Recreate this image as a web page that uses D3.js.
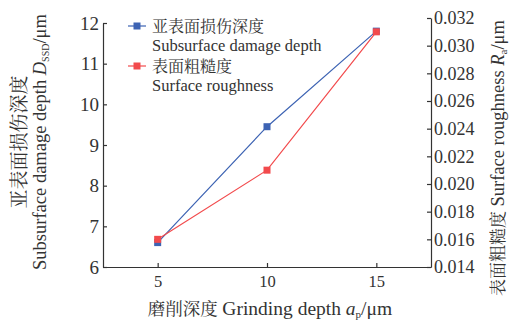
<!DOCTYPE html>
<html>
<head>
<meta charset="utf-8">
<script src="https://cdn.jsdelivr.net/npm/d3@7"></script>
<style>
  body { margin: 0; background: #fff; }
  svg text { font-family: "Liberation Serif", "Times New Roman", serif; fill: #333; }
  svg .cjk { font-family: "Noto Serif CJK SC", "Noto Sans CJK SC", serif; }
</style>
</head>
<body>
<div id="chart"></div>
<script>
// data
const depth = [5, 10, 15];
const ssdDepth = [6.6, 9.45, 11.8];
const roughness = [0.016, 0.021, 0.031];
const xTicks = [5, 10, 15];
const leftTicks = [6, 7, 8, 9, 10, 11, 12];
const rightTicks = [0.014, 0.016, 0.018, 0.020, 0.022, 0.024, 0.026, 0.028, 0.030, 0.032];

const width = 516, height = 320;
const blue = "#3d63b3", red = "#f24a4c", axisColor = "#333";
const serif = "'Liberation Serif', 'Times New Roman', serif";

const svg = d3.select("#chart").append("svg")
    .attr("width", width)
    .attr("height", height);

const x = d3.scaleLinear().domain([2.5, 17.5]).range([103, 431]);
const yL = d3.scaleLinear().domain([6, 12]).range([267, 23]);
const yR = d3.scaleLinear().domain([0.014, 0.032]).range([267, 18]);

// axes
const xAxis = svg.append("g")
    .attr("transform", `translate(0,${yL(6)})`)
    .call(d3.axisBottom(x).tickValues(xTicks).tickSizeInner(-4).tickSizeOuter(0).tickPadding(8));
const leftAxis = svg.append("g")
    .attr("transform", `translate(${x(2.5)},0)`)
    .call(d3.axisLeft(yL).tickValues(leftTicks).tickFormat(d3.format("d")).tickSizeInner(-4).tickSizeOuter(0).tickPadding(4));
const rightAxis = svg.append("g")
    .attr("transform", `translate(${x(17.5)},0)`)
    .call(d3.axisRight(yR).tickValues(rightTicks).tickFormat(d3.format(".3f")).tickSizeInner(-4).tickSizeOuter(0).tickPadding(3));

[xAxis, leftAxis, rightAxis].forEach(function (g) {
    g.attr("font-family", null).attr("font-size", null);
    g.selectAll("path, line").attr("stroke", axisColor).attr("stroke-width", 1.2);
    g.selectAll("text")
        .style("font-family", serif)
        .style("font-size", "18px")
        .attr("fill", axisColor);
});
xAxis.selectAll("text").style("font-size", "16.5px");
leftAxis.selectAll("text").style("font-size", "19px");

// series
function drawSeries(values, yScale, color) {
    const pts = depth.map(function (d, i) { return [x(d), yScale(values[i])]; });
    svg.append("path")
        .datum(pts)
        .attr("fill", "none")
        .attr("stroke", color)
        .attr("stroke-width", 1.2)
        .attr("d", d3.line());
    svg.append("g").selectAll("rect")
        .data(pts)
        .join("rect")
        .attr("x", function (d) { return d[0] - 3.5; })
        .attr("y", function (d) { return d[1] - 3.5; })
        .attr("width", 7)
        .attr("height", 7)
        .attr("fill", color);
}
drawSeries(ssdDepth, yL, blue);
drawSeries(roughness, yR, red);

// legend
const legend = [
    { color: blue, zh: "亚表面损伤深度", en: "Subsurface damage depth", y: 26 },
    { color: red, zh: "表面粗糙度", en: "Surface roughness", y: 66 }
];
legend.forEach(function (l) {
    svg.append("line")
        .attr("x1", 128).attr("x2", 146)
        .attr("y1", l.y).attr("y2", l.y)
        .attr("stroke", l.color).attr("stroke-width", 1.2);
    svg.append("rect")
        .attr("x", 133.5).attr("y", l.y - 3.5)
        .attr("width", 7).attr("height", 7)
        .attr("fill", l.color);
    svg.append("text")
        .attr("class", "cjk")
        .attr("x", 152).attr("y", l.y)
        .attr("dy", "0.35em")
        .style("font-size", "16px")
        .text(l.zh);
    svg.append("text")
        .attr("x", 152).attr("y", l.y + 20)
        .attr("dy", "0.32em")
        .style("font-family", serif)
        .style("font-size", "16.5px")
        .text(l.en);
});

// x title
const xt = svg.append("text")
    .attr("x", 270).attr("y", 308)
    .attr("text-anchor", "middle")
    .attr("dy", "0.35em")
    .style("font-family", serif)
    .style("font-size", "19.5px");
xt.append("tspan").attr("class", "cjk").style("font-size", "17.5px").text("磨削深度 ");
xt.append("tspan").text("Grinding depth ");
xt.append("tspan").attr("font-style", "italic").text("a");
xt.append("tspan").style("font-size", "11px").attr("dy", 3).text("p");
xt.append("tspan").attr("dy", -3).text("/μm");

// left title
const lt = svg.append("g").attr("transform", "translate(19,142) rotate(-90)");
lt.append("text")
    .attr("class", "cjk")
    .attr("text-anchor", "middle")
    .attr("dy", "0.35em")
    .style("font-size", "19px")
    .text("亚表面损伤深度");
const lt2 = lt.append("text")
    .attr("y", 21)
    .attr("text-anchor", "middle")
    .attr("dy", "0.35em")
    .style("font-family", serif)
    .style("font-size", "18.5px");
lt2.append("tspan").text("Subsurface damage depth ");
lt2.append("tspan").attr("font-style", "italic").text("D");
lt2.append("tspan").style("font-size", "10px").attr("dy", 3).text("SSD");
lt2.append("tspan").attr("dy", -3).text("/μm");

// right title
const rt = svg.append("text")
    .attr("transform", "translate(498,158) rotate(-90)")
    .attr("text-anchor", "middle")
    .attr("dy", "0.35em")
    .style("font-family", serif)
    .style("font-size", "18.5px");
rt.append("tspan").attr("class", "cjk").style("font-size", "17px").text("表面粗糙度 ");
rt.append("tspan").text("Surface roughness ");
rt.append("tspan").attr("font-style", "italic").text("R");
rt.append("tspan").style("font-size", "11px").attr("dy", 3).text("a");
rt.append("tspan").attr("dy", -3).text("/μm");
</script>
</body>
</html>
